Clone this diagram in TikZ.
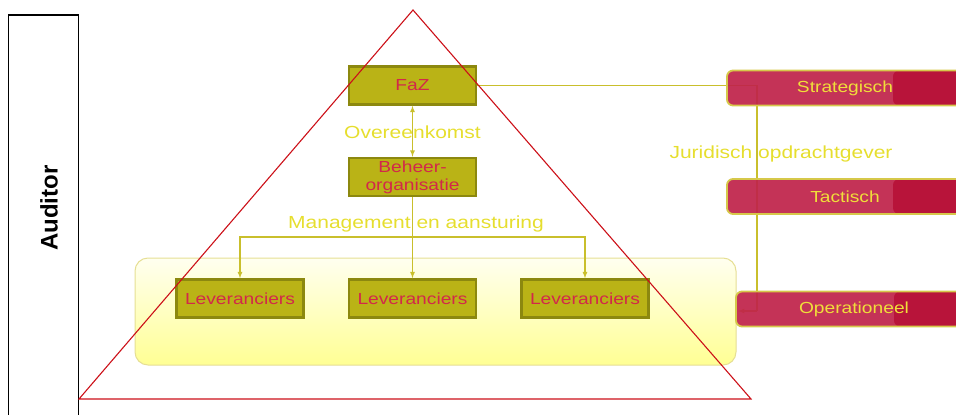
\documentclass[tikz,border=0pt]{standalone}
\usepackage{fontspec}
\setmainfont{Liberation Sans}
\newfontfamily\widesf[FakeStretch=1.2]{Liberation Sans}
\usetikzlibrary{calc}
\definecolor{orgfill}{HTML}{BAB316}
\definecolor{orgedge}{HTML}{8C880F}
\definecolor{orgtext}{HTML}{D2284A}
\definecolor{lbltext}{HTML}{E6DE2E}
\definecolor{conncol}{HTML}{C9BF2C}
\definecolor{levfill}{HTML}{C0244A}
\definecolor{levdark}{HTML}{B81238}
\definecolor{levedge}{HTML}{D6C84A}
\definecolor{levtext}{HTML}{F0DE3A}
\definecolor{pooledge}{HTML}{E6DF94}
\definecolor{tricol}{HTML}{CC1018}

\tikzset{
  orgbox/.style={draw=orgedge, line width=2.4pt, fill=orgfill, text=orgtext,
    minimum width=127pt, minimum height=38pt, inner sep=1pt, align=center,
    font=\widesf\fontsize{16}{18}\selectfont},
  levbox/.style={draw=levedge, line width=1.8pt, fill=levfill, fill opacity=0.93,
    text opacity=1, text=levtext, rounded corners=6pt,
    minimum width=236pt, minimum height=35pt, inner sep=1pt,
    font=\widesf\fontsize{16}{18}\selectfont,
    path picture={\fill[levdark] (path picture bounding box.south east)
      rectangle ([xshift=-#1]path picture bounding box.north east);}},
  levbox/.default=70pt,
  lbl/.style={text=lbltext, inner sep=1pt, font=\widesf\fontsize{17.5}{19}\selectfont},
  conn/.style={draw=conncol, line width=1.2pt},
  tri/.style={draw=tricol, line width=1.1pt, line join=miter},
}

\begin{document}
\begin{tikzpicture}[x=1pt,y=-1pt,>=latex]
\useasboundingbox (0,0) rectangle (956,415);
\node[draw=black, line width=1.4pt, fill=white, minimum width=70pt, minimum height=420pt, inner sep=0pt] (aud) at (43.5,225) {};
\node[rotate=90, inner sep=0pt, font=\bfseries\fontsize{24}{26}\selectfont] (audtxt) at (49,208) {Auditor};

\node[draw=pooledge, line width=1pt, rounded corners=13pt, top color=yellow!6, bottom color=yellow!42,
  minimum width=601pt, minimum height=107pt] (pool) at (435.5,311.5) {};

\node[orgbox] (faz) at (412.5,85.5) {FaZ};
\node[orgbox] (beh) at (412.5,177) {Beheer-\\organisatie};
\node[orgbox] (lev1) at (240,298.5) {Leveranciers};
\node[orgbox] (lev2) at (412.5,298.5) {Leveranciers};
\node[orgbox] (lev3) at (585,298.5) {Leveranciers};

\node[lbl] (ovk) at (412.5,132) {Overeenkomst};
\node[lbl] (mga) at (416,224) {Management en aansturing};
\node[lbl] (jur) at (781,154) {Juridisch opdrachtgever};

\draw[conn,<->] (faz.south) -- (beh.north);
\coordinate (split) at (412.5,237);
\draw[conn,->] (beh.south) -- (lev2.north);
\draw[conn,->] (split) -| (lev1.north);
\draw[conn,->] (split) -| (lev3.north);

\coordinate (jtop) at (757,85.5);
\coordinate (jbot) at (757,311);
\draw[conn] (faz.east) -- (jtop) -- (jbot);
\draw[conn,->] (jbot) -- (738,311);

\node[levbox] (strat) at (845,88) {Strategisch};
\node[levbox] (tact) at (845,196.5) {Tactisch};
\node[levbox=78pt] (oper) at (854,309) {Operationeel};

\coordinate (apex) at (413,10);
\coordinate (bl) at (79,399);
\coordinate (br) at (751,399);
\draw[tri] (apex) -- (bl) -- (br) -- cycle;
\end{tikzpicture}
\end{document}
